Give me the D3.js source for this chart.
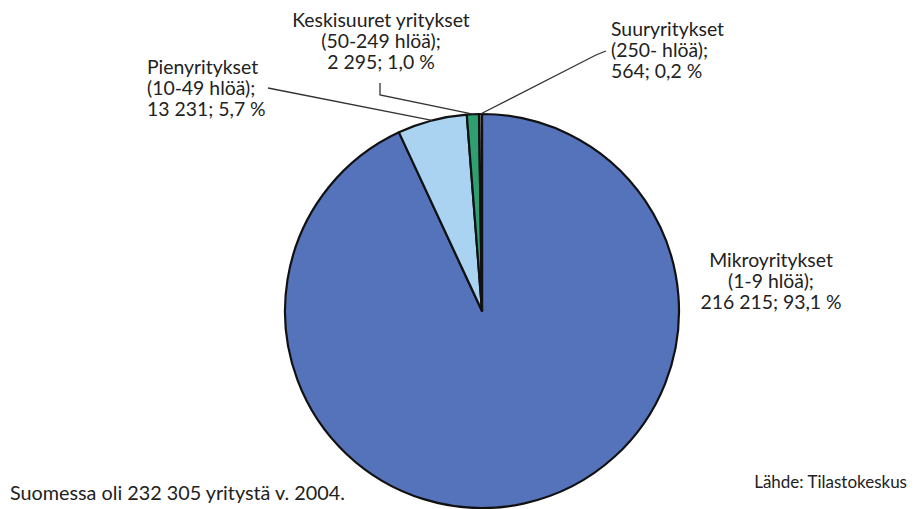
<!DOCTYPE html>
<html>
<head>
<meta charset="utf-8">
<script src="https://cdn.jsdelivr.net/npm/d3@7"></script>
<style>
  body { margin: 0; background: #fff; }
  svg text { font-family: Lato, "Open Sans", sans-serif; fill: #222; }
</style>
</head>
<body>
<div id="chart"></div>
<script>
// data
var categories = ["Mikroyritykset", "Pienyritykset", "Keskisuuret yritykset", "Suuryritykset"];
var sizeLabels = ["(1-9 hlöä);", "(10-49 hlöä);", "(50-249 hlöä);", "(250- hlöä);"];
var counts = [216215, 13231, 2295, 564];
var shares = ["93,1", "5,7", "1,0", "0,2"];
var sliceColors = ["#5573bb", "#a9d3f0", "#2f9f72", "#7d7d7d"];

var width = 915, height = 509;
var cx = 482, cy = 311, radius = 197;

// label placement: [x, first baseline, anchor, leader line points before the pie edge]
var labelLayout = [
  {x: 771, y: 267, anchor: "middle", leader: null},
  {x: 147, y: 74, anchor: "start", leader: [[268, 88]]},
  {x: 381, y: 27, anchor: "middle", leader: [[380, 83], [380, 95]]},
  {x: 611, y: 36, anchor: "start", leader: [[606, 51], [596, 55]]}
];

var fmt = function(n) { return d3.format(",")(n).replace(/,/g, " "); };

var svg = d3.select("#chart").append("svg")
  .attr("width", width)
  .attr("height", height);

var pie = d3.pie().sort(null).value(function(d) { return d; });
var arcs = pie(counts);
var arc = d3.arc().innerRadius(0).outerRadius(radius);

var g = svg.append("g")
  .attr("transform", "translate(" + cx + "," + cy + ")");

g.selectAll("path.slice")
  .data(arcs)
  .enter().append("path")
    .attr("class", "slice")
    .attr("d", arc)
    .style("fill", function(d, i) { return sliceColors[i]; })
    .style("stroke", "#111")
    .style("stroke-width", 2.2)
    .style("stroke-linejoin", "round");

// leader lines
arcs.forEach(function(d, i) {
  var lay = labelLayout[i];
  if (!lay.leader) return;
  var mid = (d.startAngle + d.endAngle) / 2;
  var pts = lay.leader.slice();
  pts.push([cx + radius * Math.sin(mid), cy - radius * Math.cos(mid)]);
  svg.append("path")
    .attr("d", d3.line()(pts))
    .style("fill", "none")
    .style("stroke", "#333")
    .style("stroke-width", 1.3);
});

// labels
categories.forEach(function(c, i) {
  var lay = labelLayout[i];
  var lines = [c, sizeLabels[i], fmt(counts[i]) + "; " + shares[i] + " %"];
  var t = svg.append("text")
    .attr("x", lay.x)
    .attr("y", lay.y)
    .style("font-size", "19.4px")
    .style("text-anchor", lay.anchor);
  lines.forEach(function(l, k) {
    t.append("tspan")
      .attr("x", lay.x)
      .attr("dy", k === 0 ? 0 : 21)
      .text(l);
  });
});

var total = d3.sum(counts);
svg.append("text")
  .attr("x", 10)
  .attr("y", 500)
  .style("font-size", "19.8px")
  .text("Suomessa oli " + fmt(total) + " yritystä v. 2004.");

svg.append("text")
  .attr("x", 907)
  .attr("y", 488)
  .style("font-size", "17px")
  .style("text-anchor", "end")
  .text("Lähde: Tilastokeskus");
</script>
</body>
</html>
